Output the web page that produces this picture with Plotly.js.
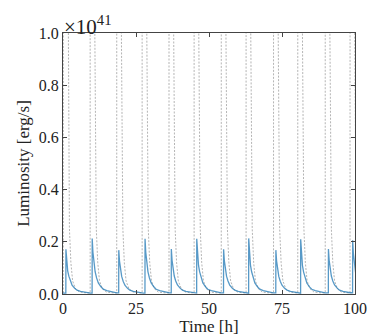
<!DOCTYPE html>
<html>
<head>
<meta charset="utf-8">
<script src="https://cdn.plot.ly/plotly-3.0.1.min.js"></script>
<style>
  html, body { margin: 0; padding: 0; background: #fff; }
  #chart { width: 374px; height: 336px; }
</style>
</head>
<body>
<div id="chart"></div>
<script>
// Luminosity in units of 1e41 erg/s, time in hours

// blue curve: time of each burst peak and its height
const bluePeakTimes = [1.0, 10.0, 19.1, 28.1, 37.1, 45.8, 55.0, 63.6, 72.9, 81.4, 90.9, 99.2];
const bluePeakValues = [0.171, 0.213, 0.168, 0.212, 0.172, 0.212, 0.171, 0.213, 0.168, 0.210, 0.172, 0.206];
// decay after each peak: hours since peak, fraction of the peak
const blueDecayDt = [0, 0.25, 0.6, 1.0, 1.5, 2.1, 3.0, 3.8, 5.0, 6.1, 7.5, 8.4];
const blueDecayFrac = [1, 0.75, 0.52, 0.40, 0.29, 0.20, 0.13, 0.086, 0.06, 0.043, 0.028, 0.02];

// grey dashed curve: time each burst switches on
const greyRiseTimes = [0.1, 9.3, 18.4, 27.1, 36.3, 44.9, 54.2, 62.7, 72.1, 80.4, 89.8, 98.3];
// shape of each grey burst: hours since switch-on, luminosity
const greyDt = [0, 0.02, 0.8, 1.6, 1.8, 2.1, 2.6, 3.2, 4.2, 5.5, 7.0, 8.5];
const greyVal = [0.004, 6.0, 3.0, 1.0, 0.5, 0.25, 0.12, 0.05, 0.02, 0.008, 0.005, 0.004];

const xRange = [0, 100];
const yRange = [0, 1.0];

function buildBlue() {
  const x = [0], y = [0.003];
  bluePeakTimes.forEach((t0, i) => {
    const p = bluePeakValues[i];
    x.push(t0 - 0.03); y.push(y[y.length - 1]);
    blueDecayDt.forEach((dt, j) => {
      const t = t0 + dt;
      const next = bluePeakTimes[i + 1];
      if (next !== undefined && t >= next - 0.05) return;
      if (t > xRange[1] + 1) return;
      x.push(t); y.push(p * blueDecayFrac[j]);
    });
  });
  return { x, y };
}

function buildGrey() {
  const x = [], y = [];
  greyRiseTimes.forEach((t0, i) => {
    greyDt.forEach((dt, j) => {
      const t = t0 + dt;
      const next = greyRiseTimes[i + 1];
      if (next !== undefined && t >= next) return;
      if (t > xRange[1] + 2) return;
      x.push(t); y.push(greyVal[j]);
    });
  });
  return { x, y };
}

const blue = buildBlue();
const grey = buildGrey();

const family = 'Liberation Serif, DejaVu Serif, serif';
const tickFont = { family: family, size: 16, color: '#222' };
const titleFont = { family: family, size: 17, color: '#222' };

const data = [
  {
    x: grey.x, y: grey.y, type: 'scatter', mode: 'lines',
    line: { color: 'rgba(140,140,140,0.65)', width: 1, dash: '2px,1.5px' },
    hoverinfo: 'skip'
  },
  {
    x: blue.x, y: blue.y, type: 'scatter', mode: 'lines',
    line: { color: 'rgba(31,119,180,0.75)', width: 1.3 },
    hoverinfo: 'skip'
  }
];

const axisCommon = {
  showgrid: false, zeroline: false,
  showline: true, linecolor: '#444', linewidth: 1,
  mirror: 'allticks', ticks: 'inside', ticklen: 4, tickwidth: 1, tickcolor: '#444',
  tickfont: tickFont
};

const layout = {
  width: 374, height: 336,
  margin: { l: 63, r: 19, t: 33, b: 42 },
  paper_bgcolor: '#fff', plot_bgcolor: '#fff',
  font: tickFont,
  showlegend: false,
  xaxis: Object.assign({}, axisCommon, {
    range: xRange, tickvals: [0, 25, 50, 75, 100],
    title: { text: 'Time [h]', font: titleFont, standoff: 0 }
  }),
  yaxis: Object.assign({}, axisCommon, {
    range: yRange, tickvals: [0, 0.2, 0.4, 0.6, 0.8, 1.0], tickformat: '.1f',
    title: { text: 'Luminosity [erg/s]', font: titleFont, standoff: 4 }
  }),
  annotations: [{
    xref: 'paper', yref: 'paper', x: 0, y: 1, xanchor: 'left', yanchor: 'bottom',
    text: '×10<sup>41</sup>', showarrow: false,
    font: { family: family, size: 21, color: '#222' }, xshift: -1, yshift: -8
  }]
};

Plotly.newPlot('chart', data, layout, { staticPlot: true, displayModeBar: false });
</script>
</body>
</html>
